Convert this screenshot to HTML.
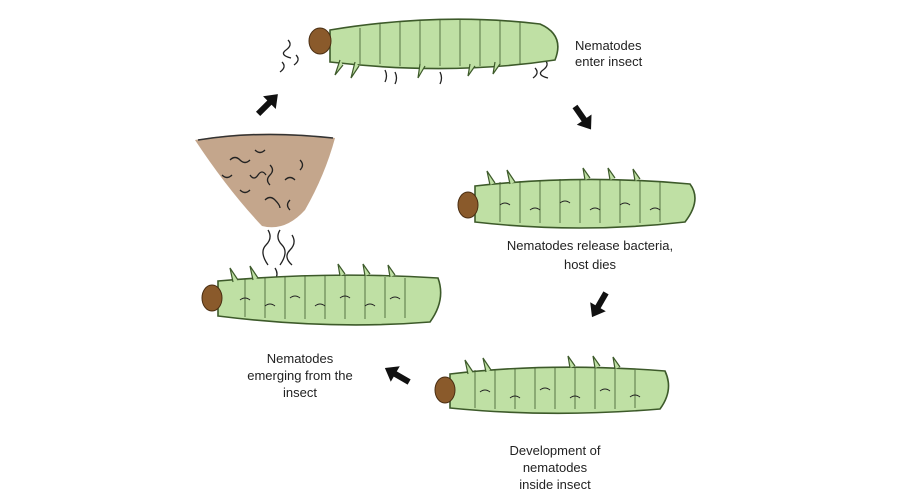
<!DOCTYPE html>
<html><head><meta charset="utf-8"><style>
html,body{margin:0;padding:0;background:#fff;}
svg{display:block}
text{font-family:"Liberation Sans",sans-serif;font-size:13px;fill:#222;}
</style></head><body>
<svg width="900" height="500" viewBox="0 0 900 500">
<!-- soil -->
<path d="M195,140 Q260,128 335,138 Q325,175 305,210 Q285,232 262,226 Q228,190 195,140 z" fill="#b5906f" opacity="0.8"/>
<path d="M198,140 Q260,130 333,138" stroke="#333" stroke-width="1.5" fill="none"/>
<g stroke="#222" fill="none" stroke-width="1.3">
<path d="M230,160 q5,-5 10,0 t10,0"/><path d="M250,175 q4,6 8,0 t8,0"/><path d="M270,165 q5,5 0,10 t0,10"/>
<path d="M285,180 q5,-5 10,0"/><path d="M240,190 q5,5 10,0"/><path d="M290,200 q-5,5 0,10"/>
<path d="M265,200 q5,-5 10,0 t5,8"/><path d="M300,160 q5,5 0,10"/><path d="M222,175 q5,5 10,0"/><path d="M255,150 q5,5 10,0"/>
<path d="M268,230 q5,8 -2,15 t2,20"/><path d="M280,230 q-5,8 2,15 t-2,20"/><path d="M292,235 q5,8 -2,15 t2,15"/><path d="M275,268 q4,6 0,12"/>
<path d="M288,40 q5,5 -2,10 t5,8"/><path d="M296,55 q5,5 -2,10"/><path d="M282,62 q5,5 -2,10"/>
<path d="M545,60 q5,5 -2,10 t5,8"/><path d="M535,68 q5,5 -2,10"/><path d="M385,70 q3,6 0,12"/><path d="M395,72 q3,6 0,12"/><path d="M440,72 q3,6 0,12"/>
</g>
<!-- caterpillars -->
<g stroke="#3d5a2a" stroke-width="1.6" fill="#bfe0a4">
<path d="M330,30 Q440,12 540,24 Q565,35 555,60 Q450,76 330,62 z"/>
<path d="M475,186 Q580,174 690,184 Q702,200 685,222 Q580,234 475,222 z"/>
<path d="M450,374 Q550,362 665,371 Q674,390 660,409 Q550,418 450,408 z"/>
<path d="M218,281 Q330,271 438,278 Q446,300 430,322 Q330,330 218,316 z"/>
</g>
<g stroke="#3d5a2a" stroke-width="1" fill="none" opacity="0.8">
<path d="M360,28 v36 M380,24 v40 M400,22 v44 M420,20 v46 M440,19 v47 M460,19 v47 M480,20 v46 M500,21 v44 M520,22 v42"/>
<path d="M500,182 v40 M520,181 v42 M540,180 v43 M560,179 v44 M580,179 v44 M600,179 v44 M620,180 v43 M640,181 v42 M660,182 v40"/>
<path d="M475,370 v38 M495,369 v40 M515,368 v41 M535,367 v42 M555,367 v42 M575,367 v42 M595,368 v41 M615,369 v40 M635,370 v38"/>
<path d="M245,279 v38 M265,277 v41 M285,276 v43 M305,275 v44 M325,275 v44 M345,275 v44 M365,276 v43 M385,277 v41 M405,278 v40"/>
</g>
<g stroke="#222" stroke-width="1" fill="none">
<path d="M500,205 q5,-4 10,0 M530,210 q5,-4 10,0 M560,203 q5,-4 10,0 M590,210 q5,-4 10,0 M620,205 q5,-4 10,0 M650,210 q5,-4 10,0"/>
<path d="M480,392 q5,-4 10,0 M510,398 q5,-4 10,0 M540,390 q5,-4 10,0 M570,398 q5,-4 10,0 M600,391 q5,-4 10,0 M630,397 q5,-4 10,0"/>
<path d="M240,300 q5,-4 10,0 M265,306 q5,-4 10,0 M290,298 q5,-4 10,0 M315,306 q5,-4 10,0 M340,298 q5,-4 10,0 M365,306 q5,-4 10,0 M390,299 q5,-4 10,0"/>
</g>
<g stroke="#3d5a2a" stroke-width="1.2" fill="#bfe0a4">
<path d="M340,60 l-5,15 l8,-10"/><path d="M355,62 l-4,16 l8,-12"/><path d="M420,64 l-2,14 l7,-12"/><path d="M470,64 l-2,12 l7,-10"/><path d="M495,62 l-2,12 l7,-10"/>
<path d="M490,185 l-3,-14 l8,12"/><path d="M510,184 l-3,-14 l8,12"/><path d="M585,180 l-2,-12 l7,10"/><path d="M610,180 l-2,-12 l7,10"/><path d="M635,181 l-2,-12 l7,10"/>
<path d="M468,374 l-3,-14 l8,12"/><path d="M486,372 l-3,-14 l8,12"/><path d="M570,368 l-2,-12 l7,10"/><path d="M595,368 l-2,-12 l7,10"/><path d="M615,369 l-2,-12 l7,10"/>
<path d="M233,282 l-3,-14 l8,12"/><path d="M253,280 l-3,-14 l8,12"/><path d="M340,276 l-2,-12 l7,10"/><path d="M365,276 l-2,-12 l7,10"/><path d="M390,277 l-2,-12 l7,10"/>
</g>
<g fill="#8a5a2b" stroke="#4a2e12" stroke-width="1">
<ellipse cx="320" cy="41" rx="11" ry="13"/>
<ellipse cx="468" cy="205" rx="10" ry="13"/>
<ellipse cx="445" cy="390" rx="10" ry="13"/>
<ellipse cx="212" cy="298" rx="10" ry="13"/>
</g>
<!-- arrows -->
<g fill="#111">
<g transform="translate(268,104) rotate(-45)"><polygon points="-14,-3 2,-3 2,-9 14,0 2,9 2,3 -14,3"/></g>
<g transform="translate(583,118) rotate(55)"><polygon points="-14,-3 2,-3 2,-9 14,0 2,9 2,3 -14,3"/></g>
<g transform="translate(599,305) rotate(120)"><polygon points="-14,-3 2,-3 2,-9 14,0 2,9 2,3 -14,3"/></g>
<g transform="translate(397,375) rotate(-150)"><polygon points="-14,-3 2,-3 2,-9 14,0 2,9 2,3 -14,3"/></g>
</g>
<text x="575" y="50">Nematodes</text>
<text x="575" y="66">enter insect</text>
<text x="590" y="250" text-anchor="middle">Nematodes release bacteria,</text>
<text x="590" y="269" text-anchor="middle">host dies</text>
<text x="555" y="455" text-anchor="middle">Development of</text>
<text x="555" y="472" text-anchor="middle">nematodes</text>
<text x="555" y="489" text-anchor="middle">inside insect</text>
<text x="300" y="363" text-anchor="middle">Nematodes</text>
<text x="300" y="380" text-anchor="middle">emerging from the</text>
<text x="300" y="397" text-anchor="middle">insect</text>
</svg>
</body></html>
